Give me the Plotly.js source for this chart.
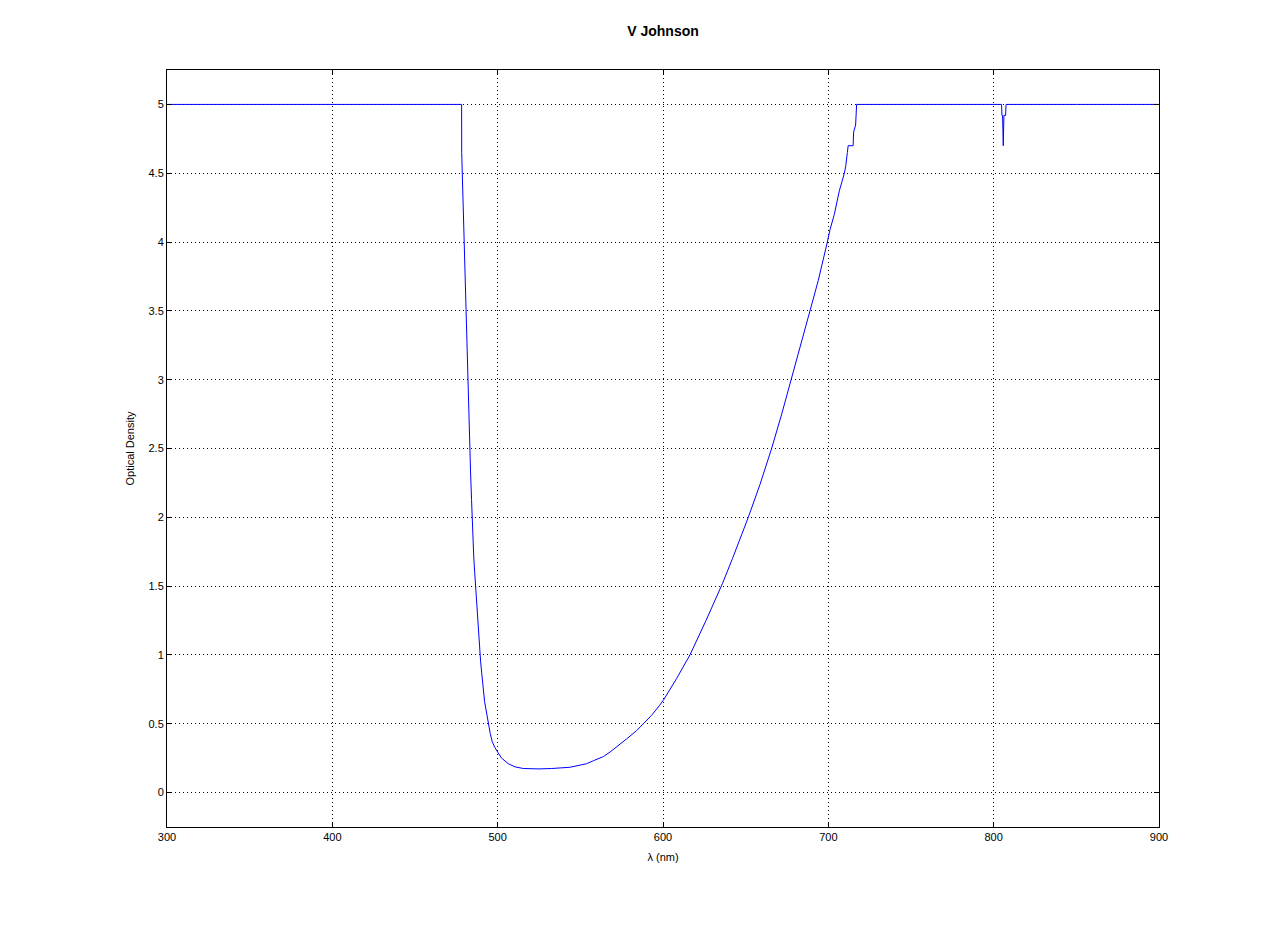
<!DOCTYPE html>
<html>
<head>
<meta charset="utf-8">
<script src="https://cdn.plot.ly/plotly-3.0.1.min.js"></script>
<style>html,body{margin:0;padding:0;background:#fff;}#chart{width:1281px;height:929px;}</style>
</head>
<body>
<div id="chart"></div>
<script>
// Wavelength (nm) and optical density
const wavelength = [
  300, 400, 478.2, 478.25, 478.8, 479.4, 480.0, 480.6, 481.2, 481.8, 482.4, 483.0, 483.6, 484.2,
  484.8, 485.5, 486.1, 486.7, 487.3, 487.9, 488.5, 489.1, 489.7, 490.3, 490.9, 491.5, 492.1,
  493.0, 494.2, 495.5, 496.7, 498.2, 500.2, 502.4, 506.4, 510.5, 515.5, 525, 532.7, 537.7,
  543.7, 548, 553.8, 558, 564, 568, 574, 578, 584, 588, 593, 598, 600.4, 608.3, 616.3,
  626, 636, 642, 651.6, 658.7, 665.7, 671.8, 677.4, 682.9, 688.9, 693.9, 699.4,
  701, 703.6, 706.6, 709.7, 710.5, 711.5, 712.0, 715.0, 715.3, 716.5, 717.1, 760, 804.8,
  805.0, 805.4, 805.8, 806.2, 807.2, 807.5, 850, 900
];
const opticalDensity = [
  5, 5, 5, 4.65, 4.41, 4.04, 3.79, 3.55, 3.26, 2.93, 2.69, 2.50, 2.33, 2.13,
  1.90, 1.72, 1.60, 1.49, 1.36, 1.21, 1.10, 1.03, 0.95, 0.875, 0.79, 0.72, 0.66,
  0.60, 0.51, 0.43, 0.37, 0.33, 0.29, 0.25, 0.21, 0.187, 0.175, 0.172, 0.175, 0.178,
  0.184, 0.195, 0.21, 0.232, 0.262, 0.295, 0.35, 0.39, 0.45, 0.50, 0.56, 0.635, 0.675, 0.83, 1.0,
  1.25, 1.52, 1.70, 2.0, 2.24, 2.5, 2.75, 3.0, 3.23, 3.5, 3.72, 4.0,
  4.09, 4.2, 4.37, 4.5, 4.55, 4.65, 4.70, 4.70, 4.80, 4.85, 5, 5, 5,
  4.92, 4.92, 4.70, 4.92, 4.92, 5, 5, 5
];
const xTicks = [300, 400, 500, 600, 700, 800, 900];
const yTicks = [0, 0.5, 1, 1.5, 2, 2.5, 3, 3.5, 4, 4.5, 5];

const trace = {
  x: wavelength, y: opticalDensity, type: 'scatter', mode: 'lines',
  line: {color: '#0000ff', width: 1}, hoverinfo: 'skip'
};

const axisCommon = {
  showline: true, linecolor: '#000', linewidth: 1, mirror: 'ticks',
  ticks: 'inside', ticklen: 5, tickcolor: '#000', tickwidth: 1,
  showgrid: true, gridcolor: '#000', gridwidth: 1, griddash: '1px,3px',
  zeroline: false, tickfont: {family: 'Liberation Sans, Arial, sans-serif', size: 11, color: '#000'}
};

const layout = {
  width: 1281, height: 929,
  margin: {l: 167, r: 122, t: 70, b: 102},
  paper_bgcolor: '#fff', plot_bgcolor: '#fff',
  showlegend: false,
  title: {text: '<b>V Johnson</b>', x: 0.5176, xanchor: 'center', y: 0.966, yanchor: 'middle',
    font: {family: 'Liberation Sans, Arial, sans-serif', size: 14, color: '#000'}},
  xaxis: Object.assign({}, axisCommon, {
    range: [300, 900], tickvals: xTicks, ticktext: xTicks.map(String),
    title: {text: 'λ (nm)', standoff: 11, font: {family: 'Liberation Sans, Arial, sans-serif', size: 11, color: '#000'}}
  }),
  yaxis: Object.assign({}, axisCommon, {
    range: [-0.25, 5.25], tickvals: yTicks, ticktext: yTicks.map(String),
    title: {text: 'Optical Density', standoff: 11, font: {family: 'Liberation Sans, Arial, sans-serif', size: 11, color: '#000'}}
  })
};

Plotly.newPlot('chart', [trace], layout, {displayModeBar: false, staticPlot: true});
</script>
</body>
</html>
